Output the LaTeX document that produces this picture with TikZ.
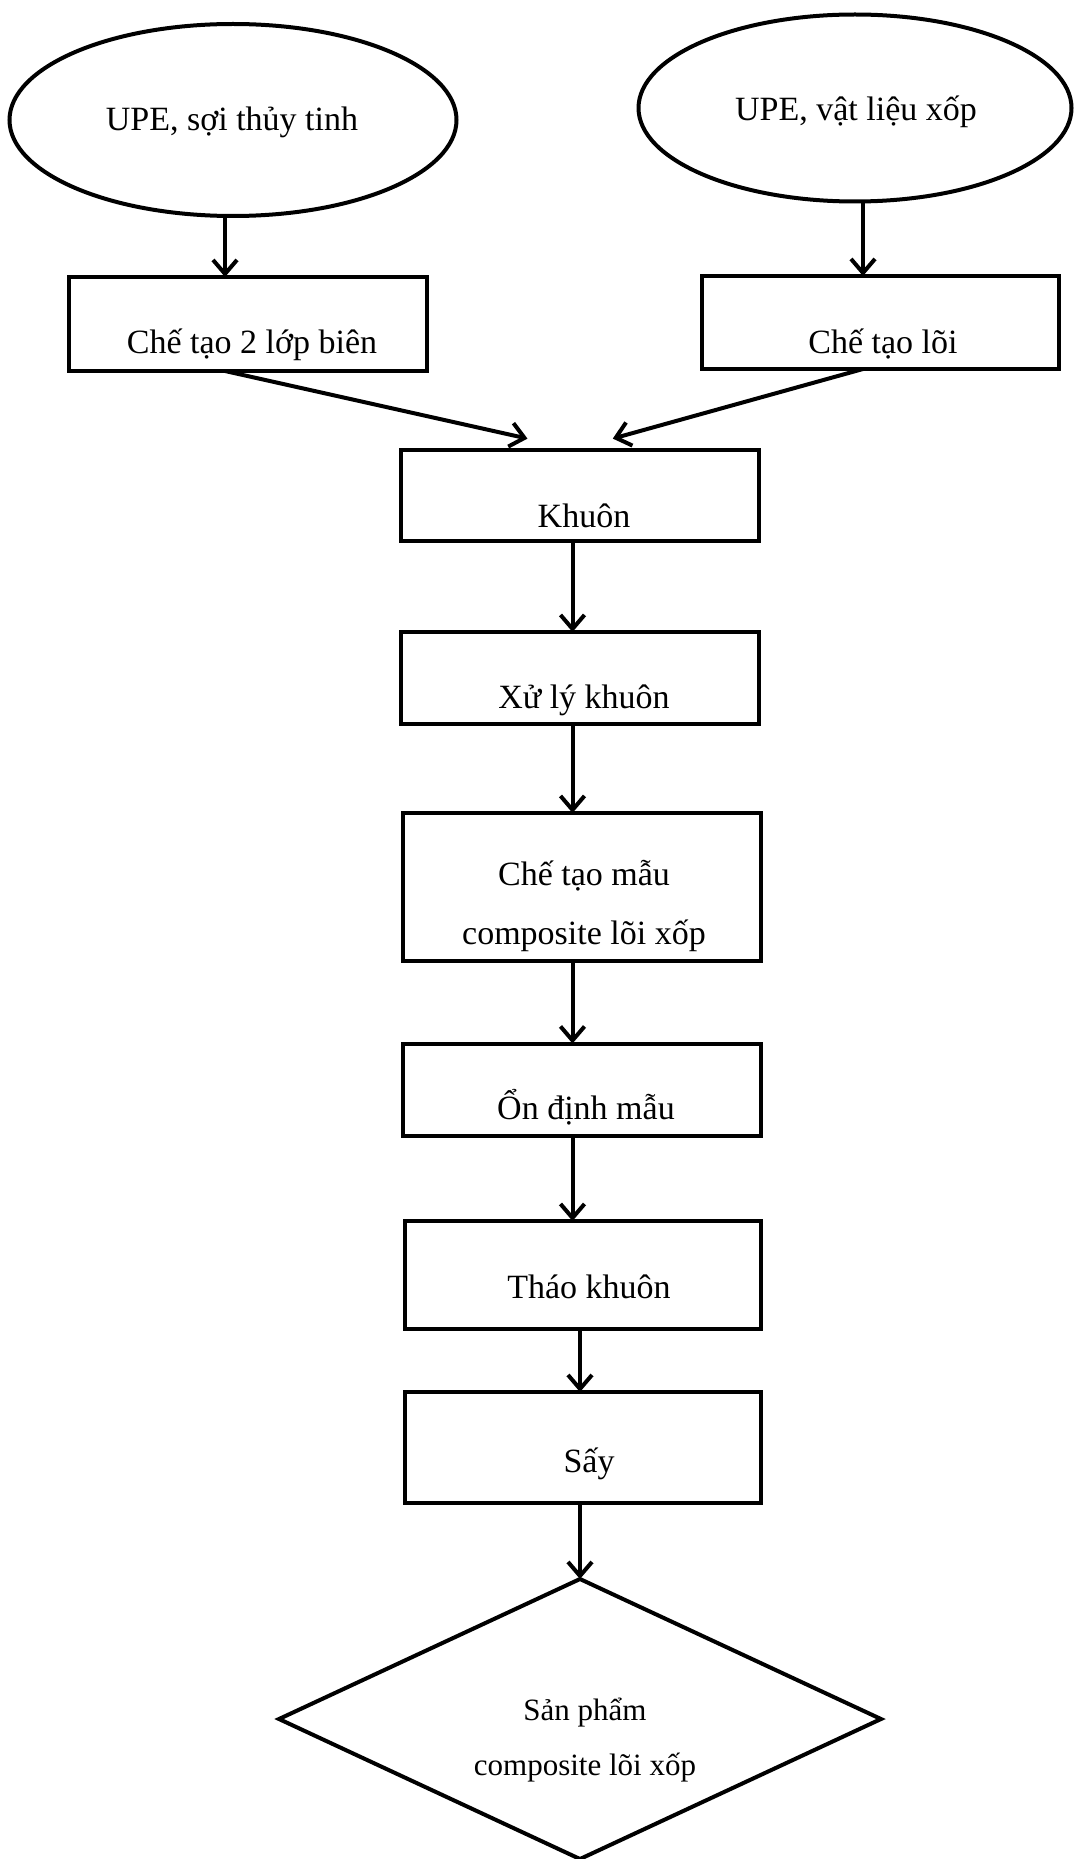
\documentclass[tikz,border=0pt]{standalone}
\usepackage{fontspec}
\setmainfont{Liberation Serif}
\usetikzlibrary{shapes.geometric,arrows.meta}
\begin{document}
\begin{tikzpicture}[x=1pt,y=-1pt,
  shapeline/.style={draw=black,line width=4pt,inner sep=0pt,outer sep=0pt},
  oval/.style={shapeline,ellipse},
  stepbox/.style={shapeline,rectangle},
  lbl/.style={anchor=base,inner sep=0pt,font=\fontsize{34}{40}\selectfont},
  slbl/.style={anchor=base,inner sep=0pt,font=\fontsize{31}{37}\selectfont},
  arr/.style={draw=black,line width=4pt,-{Straight Barb[length=14pt,width=24pt,line width=4pt]}}]
\useasboundingbox (0,0) rectangle (1074,1859);
% shapes
\node[oval,minimum width=447pt,minimum height=192pt] (e1) at (233,120) {};
\node[oval,minimum width=433pt,minimum height=187pt] (e2) at (855,108) {};
\node[stepbox,minimum width=358pt,minimum height=94pt] (b1) at (248,324) {};
\node[stepbox,minimum width=357pt,minimum height=93pt] (b2) at (880,322.5) {};
\node[stepbox,minimum width=358pt,minimum height=91pt] (k1) at (580,495) {};
\node[stepbox,minimum width=358pt,minimum height=92pt] (k2) at (580,678) {};
\node[stepbox,minimum width=358pt,minimum height=148pt] (k3) at (582,887) {};
\node[stepbox,minimum width=358pt,minimum height=92pt] (k4) at (582,1089.5) {};
\node[stepbox,minimum width=356pt,minimum height=108pt] (k5) at (583,1275) {};
\node[stepbox,minimum width=356pt,minimum height=111pt] (k6) at (583,1447.5) {};
\node[shapeline,diamond,minimum width=602pt,minimum height=280pt] (d) at (580,1719) {};
% texts
\node[lbl] (te1) at (232,131) {UPE, sợi thủy tinh};
\node[lbl] (te2) at (856,121) {UPE, vật liệu xốp};
\node[lbl] (tb1) at (252,353) {Chế tạo 2 lớp biên};
\node[lbl] (tb2) at (883,353) {Chế tạo lõi};
\node[lbl] (tk1) at (584,527) {Khuôn};
\node[lbl] (tk2) at (584,708) {Xử lý khuôn};
\node[lbl] (tk3a) at (584,885) {Chế tạo mẫu};
\node[lbl] (tk3b) at (584,944) {composite lõi xốp};
\node[lbl] (tk4) at (586,1119) {Ổn định mẫu};
\node[lbl] (tk5) at (589,1298) {Tháo khuôn};
\node[lbl] (tk6) at (589,1472) {Sấy};
\node[slbl] (td1) at (585,1720) {Sản phẩm};
\node[slbl] (td2) at (585,1775) {composite lõi xốp};
% connectors
\coordinate (a1) at (225,0);
\coordinate (a2) at (863,0);
\coordinate (m1) at (527.5,438.6);
\coordinate (m2) at (612.8,438.6);
\coordinate (c1) at (572.5,0);
\coordinate (c2) at (580,0);
\draw[arr] (e1.south -| a1) -- (b1.north -| a1);
\draw[arr] (e2.south -| a2) -- (b2.north -| a2);
\draw[arr] (b1.south -| a1) -- (m1);
\draw[arr] (b2.south -| a2) -- (m2);
\draw[arr] (k1.south -| c1) -- (k2.north -| c1);
\draw[arr] (k2.south -| c1) -- (k3.north -| c1);
\draw[arr] (k3.south -| c1) -- (k4.north -| c1);
\draw[arr] (k4.south -| c1) -- (k5.north -| c1);
\draw[arr] (k5.south -| c2) -- (k6.north -| c2);
\draw[arr] (k6.south -| c2) -- (d.north);
\end{tikzpicture}
\end{document}
